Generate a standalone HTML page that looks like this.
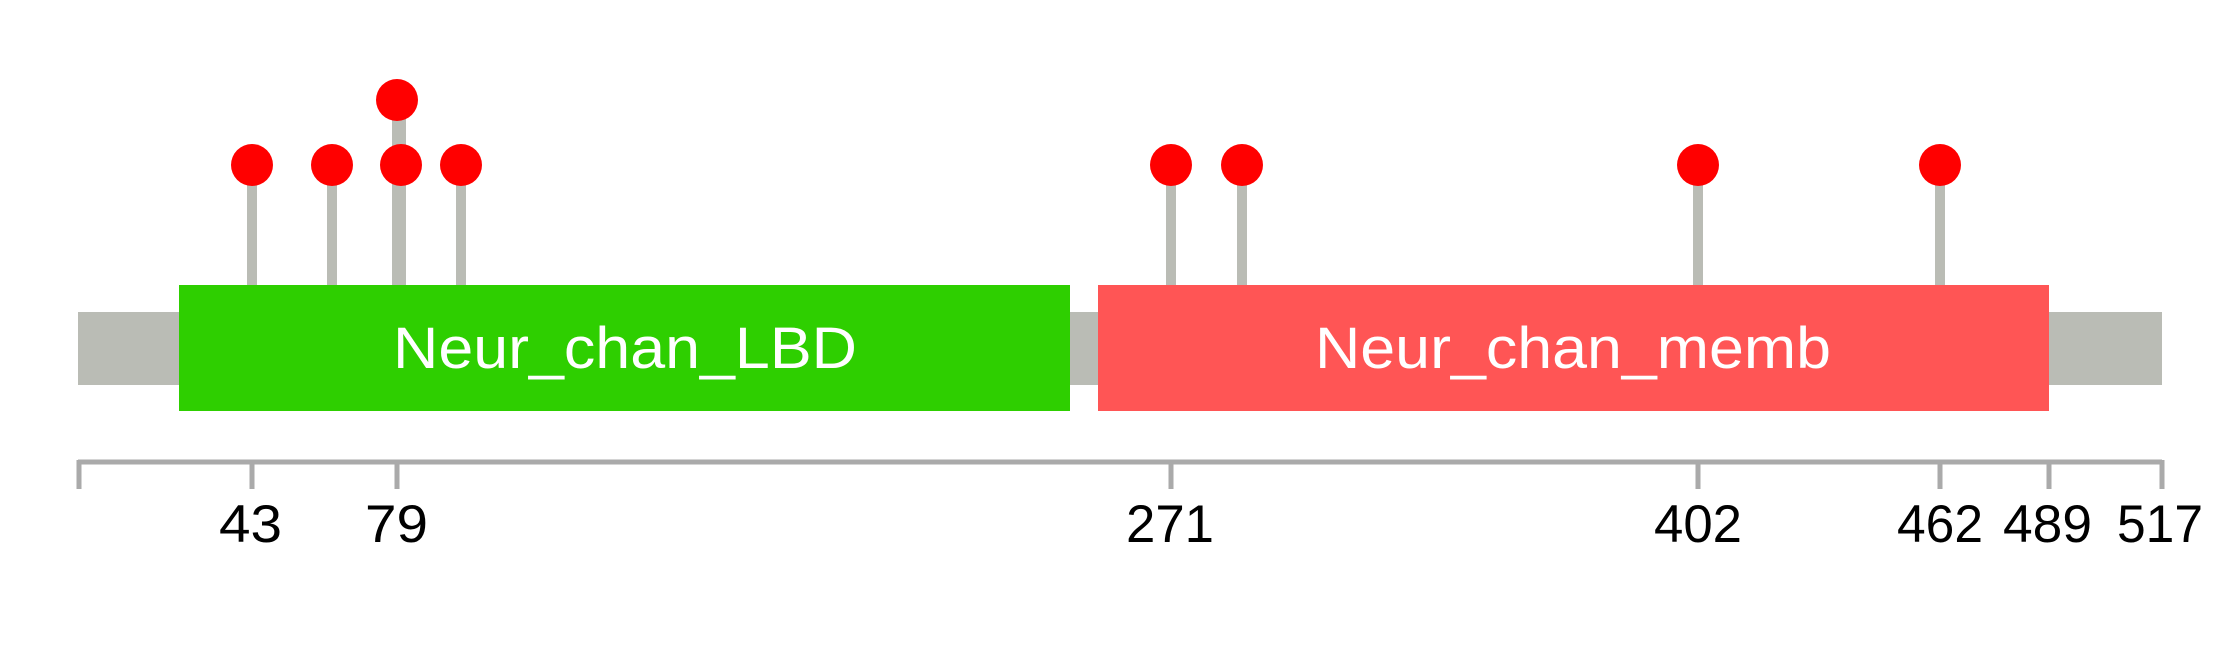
<!DOCTYPE html>
<html><head><meta charset="utf-8"><style>html,body{margin:0;padding:0;background:#fff}svg{display:block}text{font-family:"Liberation Sans",Arial,sans-serif}</style></head>
<body>
<svg width="2239" height="645" viewBox="0 0 2239 645" xmlns="http://www.w3.org/2000/svg">
<rect x="78" y="312" width="2084" height="73" fill="#babcb5"/>
<g stroke="#babcb5" stroke-width="10">
<line x1="252" y1="165" x2="252" y2="290"/>
<line x1="332" y1="165" x2="332" y2="290"/>
<line x1="399" y1="100" x2="399" y2="290" stroke-width="14"/>
<line x1="461" y1="165" x2="461" y2="290"/>
<line x1="1171" y1="165" x2="1171" y2="290"/>
<line x1="1242" y1="165" x2="1242" y2="290"/>
<line x1="1698" y1="165" x2="1698" y2="290"/>
<line x1="1940" y1="165" x2="1940" y2="290"/>
</g>
<g fill="#ff0000">
<circle cx="252" cy="165" r="21"/>
<circle cx="332" cy="165" r="21"/>
<circle cx="397" cy="100" r="21"/>
<circle cx="401" cy="165" r="21"/>
<circle cx="461" cy="165" r="21"/>
<circle cx="1171" cy="165" r="21"/>
<circle cx="1242" cy="165" r="21"/>
<circle cx="1698" cy="165" r="21"/>
<circle cx="1940" cy="165" r="21"/>
</g>
<rect x="179" y="285" width="891" height="126" fill="#2ecf00"/>
<rect x="1098" y="285" width="951" height="126" fill="#ff5555"/>
<text x="393" y="368" fill="#fff" font-size="58" textLength="464" lengthAdjust="spacingAndGlyphs">Neur_chan_LBD</text>
<text x="1315" y="368" fill="#fff" font-size="58" textLength="516" lengthAdjust="spacingAndGlyphs">Neur_chan_memb</text>
<g stroke="#aaaaaa" stroke-width="5">
<line x1="78" y1="462" x2="2162" y2="462"/>
<line x1="79" y1="460" x2="79" y2="489"/>
<line x1="252" y1="462" x2="252" y2="489"/>
<line x1="397" y1="462" x2="397" y2="489"/>
<line x1="1171" y1="462" x2="1171" y2="489"/>
<line x1="1698" y1="462" x2="1698" y2="489"/>
<line x1="1940" y1="462" x2="1940" y2="489"/>
<line x1="2049" y1="462" x2="2049" y2="489"/>
<line x1="2162" y1="460" x2="2162" y2="489"/>
</g>
<g fill="#000">
<text x="219" y="542" font-size="53" textLength="63" lengthAdjust="spacingAndGlyphs">43</text>
<text x="365" y="542" font-size="53" textLength="63" lengthAdjust="spacingAndGlyphs">79</text>
<text x="1126" y="542" font-size="53" textLength="88" lengthAdjust="spacingAndGlyphs">271</text>
<text x="1654" y="542" font-size="53" textLength="88" lengthAdjust="spacingAndGlyphs">402</text>
<text x="1897" y="542" font-size="53" textLength="86" lengthAdjust="spacingAndGlyphs">462</text>
<text x="2003" y="542" font-size="53" textLength="89" lengthAdjust="spacingAndGlyphs">489</text>
<text x="2117" y="542" font-size="53" textLength="86" lengthAdjust="spacingAndGlyphs">517</text>
</g>
</svg>
</body></html>
